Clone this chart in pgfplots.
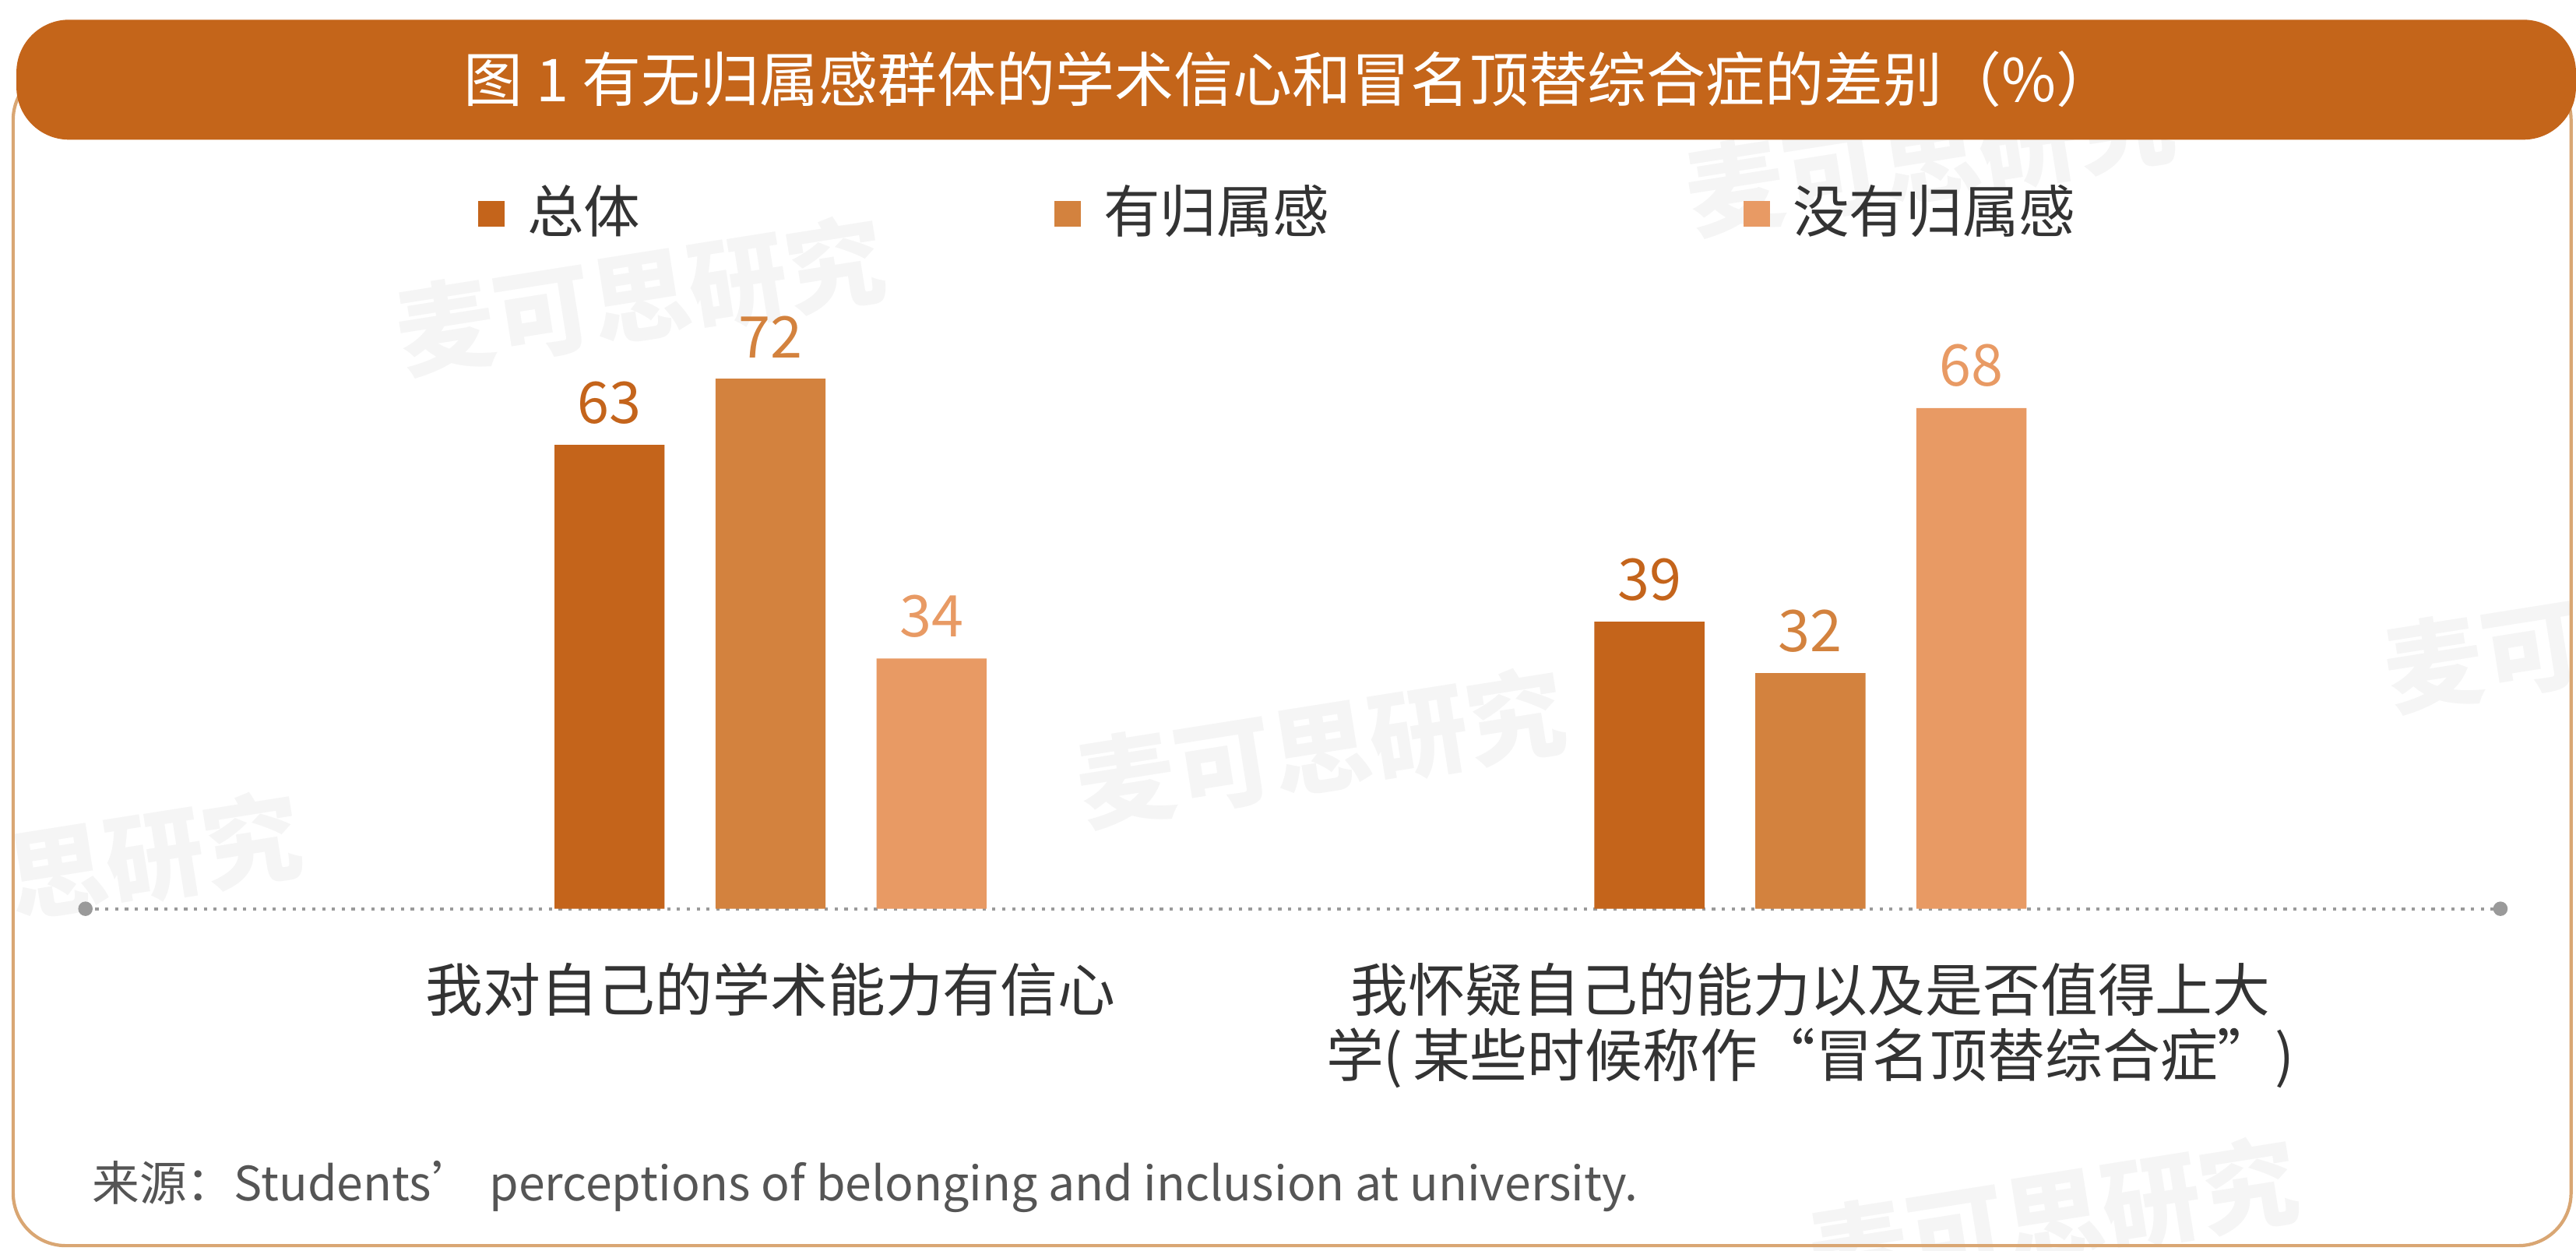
\documentclass[border=0pt]{standalone}
\usepackage{fontspec}
\setmainfont{Noto Sans CJK SC}
\usepackage{pgfplots}
\pgfplotsset{compat=1.18}

\definecolor{c1}{HTML}{C4641B}
\definecolor{c2}{HTML}{D3823E}
\definecolor{c3}{HTML}{E89A64}
\definecolor{bar}{HTML}{C4651A}
\definecolor{frame}{HTML}{D9A673}
\definecolor{txt}{HTML}{333333}
\definecolor{src}{HTML}{555555}
\definecolor{axisgray}{HTML}{9A9A9A}

\begin{document}
\begin{tikzpicture}
\useasboundingbox (0pt,0pt) rectangle (392pt,190.25pt);

% watermarks
\foreach \wx/\wy in {97.5/145.25, 293.75/166.5, 400/94, 201/76.5, 8.75/57.75, 312.5/5.25}
  \node[rotate=9, text=black!4, font=\fontsize{15pt}{15pt}\selectfont\bfseries] at (\wx pt,\wy pt) {麦可思研究};

% frame and title bar
\draw[frame, line width=0.5pt, rounded corners=8pt] (2pt,0.75pt) rectangle (391.25pt,180pt);
\fill[bar, rounded corners=8pt] (2.5pt,169pt) rectangle (392pt,187.25pt);
\node[text=white, font=\fontsize{9pt}{11pt}\selectfont] at (196.25pt,178.25pt)
  {图 1 有无归属感群体的学术信心和冒名顶替综合症的差别（\%）};

\begin{axis}[
  at={(13pt,52pt)}, anchor=south west, scale only axis,
  width=367.5pt, height=112pt,
  xmin=-0.6588, xmax=1.6635, ymin=0, ymax=100,
  ybar=7.75pt, bar width=16.75pt,
  axis x line*=bottom, axis y line=none,
  x axis line style={draw=axisgray, line width=0.5pt, dash pattern=on 0.5pt off 1pt},
  xtick={0,1}, major tick length=0pt,
  xticklabels={我对自己的学术能力有信心, 我怀疑自己的能力以及是否值得上大\\学(\,某些时候称作“冒名顶替综合症”)},
  xticklabel style={align=center, text=txt, anchor=north, inner sep=0pt, yshift=-8pt,
    font=\fontsize{8.75pt}{10pt}\selectfont},
  /pgf/number format/assume math mode=true,
  nodes near coords,
  every node near coord/.append style={font=\fontsize{8.75pt}{10pt}\selectfont, inner sep=0pt, anchor=south, yshift=3pt},
  legend columns=3,
  legend image code/.code={\fill[#1,draw=none] (0pt,-2pt) rectangle (4pt,2pt);},
  legend style={at={(0.162,0.944)}, anchor=west, draw=none, fill=none, inner sep=0pt,
    font=\fontsize{8.6pt}{10pt}\selectfont, text=txt,
    /tikz/every odd column/.style={column sep=1.5pt},
    /tikz/every even column/.style={column sep=61pt}},
  clip=false,
]
\addplot[fill=c1, draw=none, every node near coord/.append style={text=c1}]
  coordinates {(0,63) (1,39)};
\addlegendentry{总体}
\addplot[fill=c2, draw=none, every node near coord/.append style={text=c2}]
  coordinates {(0,72) (1,32)};
\addlegendentry{有归属感}
\addplot[fill=c3, draw=none, every node near coord/.append style={text=c3}]
  coordinates {(0,34) (1,68)};
\addlegendentry{没有归属感}

\fill[axisgray] (rel axis cs:0,0) circle[radius=1.1pt];
\fill[axisgray] (rel axis cs:1,0) circle[radius=1.1pt];
\end{axis}

\node[anchor=west, text=src, font=\fontsize{7.2pt}{8pt}\selectfont] at (10.5pt,9.75pt)
  {来源：Students’ perceptions of belonging and inclusion at university.};
\end{tikzpicture}
\end{document}
